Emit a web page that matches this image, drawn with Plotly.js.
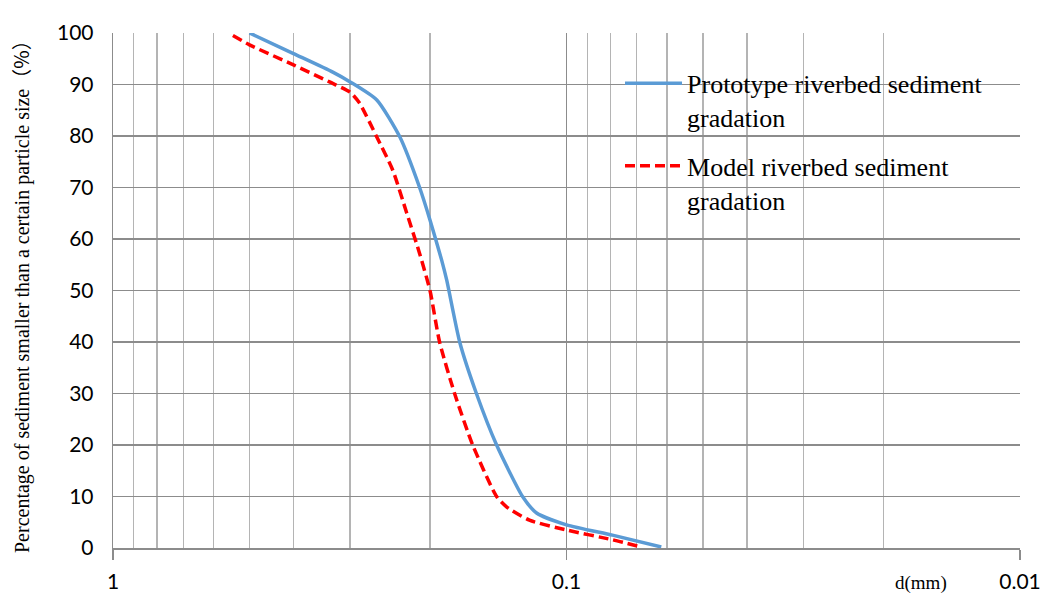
<!DOCTYPE html>
<html>
<head>
<meta charset="utf-8">
<script src="https://cdn.plot.ly/plotly-3.0.1.min.js"></script>
<style>html,body{margin:0;padding:0;background:#fff;}#chart{width:1047px;height:603px;}</style>
</head>
<body>
<div id="chart"></div>
<script>
// Particle size d (mm) and cumulative percentage finer (%)
var protoD = [0.5, 0.4, 0.3276, 0.3, 0.262, 0.233, 0.211, 0.2, 0.1885, 0.1837, 0.172, 0.158, 0.1426, 0.125, 0.1164, 0.1, 0.0792, 0.0618];
var protoP = [100, 96, 92.4, 90.5, 87, 79.8, 70.1, 63.7, 55.9, 52, 40, 30, 20, 10, 6.8, 4.5, 2.5, 0.2];
var modelD = [0.544, 0.5, 0.4, 0.333, 0.3, 0.286, 0.262, 0.2417, 0.225, 0.211, 0.2, 0.1905, 0.1765, 0.161, 0.1426, 0.1356, 0.1207, 0.1, 0.0792, 0.0684];
var modelP = [99.5, 97.7, 93.8, 90.5, 88.5, 86.4, 79.8, 73.4, 65, 57.3, 50, 40, 30, 20, 10, 8, 5.4, 3.5, 1.6, 0.2];
var xTickVals = [1, 0.1, 0.01];
var xTickText = ['1', '0.1', '0.01'];
var xMinorVals = [0.9, 0.8, 0.7, 0.6, 0.5, 0.4, 0.3, 0.2, 0.09, 0.08, 0.07, 0.06, 0.05, 0.04, 0.03, 0.02];
var seriesNames = ['Prototype riverbed sediment<br>gradation', 'Model riverbed sediment<br>gradation'];
var yTitleMain = 'Percentage of sediment smaller than a certain particle size';
var yTitleUnit = '（%）';
var xTitle = 'd(mm)';

var traces = [
  {x: protoD, y: protoP, mode: 'lines', name: seriesNames[0], legendgroup: 'a',
   line: {color: '#5B9BD5', width: 3.5, shape: 'spline', smoothing: 0.6}},
  {x: modelD, y: modelP, mode: 'lines', name: seriesNames[1], legendgroup: 'b',
   line: {color: '#FF0000', width: 3.5, dash: '10px,5px', shape: 'spline', smoothing: 0.6}}
];

var serif = 'Liberation Serif, Times New Roman, serif';

var layout = {
  width: 1047, height: 603,
  margin: {l: 113, r: 27, t: 33, b: 55},
  paper_bgcolor: '#ffffff', plot_bgcolor: '#ffffff',
  showlegend: true,
  legend: {x: 0.559, y: 0.948, xanchor: 'left', yanchor: 'top', bgcolor: 'rgba(0,0,0,0)',
           font: {family: serif, size: 26, color: '#000'},
           valign: 'top', tracegroupgap: 12, itemwidth: 57},
  xaxis: {type: 'log', range: [0, -2], tickmode: 'array', tickvals: xTickVals, ticktext: xTickText,
          showgrid: true, gridcolor: '#8c8c8c', gridwidth: 1.3,
          minor: {tickmode: 'array', tickvals: xMinorVals, showgrid: true, gridcolor: '#b4b4b4', gridwidth: 1.3, ticks: ''},
          showline: true, linecolor: '#8c8c8c', linewidth: 1.5,
          ticks: 'outside', ticklen: 10, tickcolor: '#8c8c8c', tickwidth: 1.5,
          ticklabelstandoff: 4,
          tickfont: {family: 'Lato, sans-serif', size: 21, color: '#000'},
          zeroline: false, fixedrange: true},
  yaxis: {range: [0, 100], dtick: 10, showgrid: true, gridcolor: '#8c8c8c', gridwidth: 1.3,
          showline: true, linecolor: '#8c8c8c', linewidth: 1.3, ticks: '',
          ticklabelstandoff: 14,
          tickfont: {family: 'Lato, sans-serif', size: 21, color: '#000'},
          zeroline: false, fixedrange: true},
  annotations: [
    {text: yTitleMain + '<span style="font-family:Noto Sans CJK SC">' + yTitleUnit + '</span>',
     xref: 'paper', yref: 'paper', x: (20 - 113) / 907, y: (548 - 292) / 515,
     xanchor: 'center', yanchor: 'middle', textangle: -90, showarrow: false,
     font: {family: serif, size: 20, color: '#000'}},
    {text: xTitle, xref: 'paper', yref: 'paper', x: (921 - 113) / 907, y: -0.068, xanchor: 'center', yanchor: 'middle',
     showarrow: false, font: {family: serif, size: 19, color: '#000'}}
  ]
};

Plotly.newPlot('chart', traces, layout, {displayModeBar: false, staticPlot: true});
</script>
</body>
</html>
